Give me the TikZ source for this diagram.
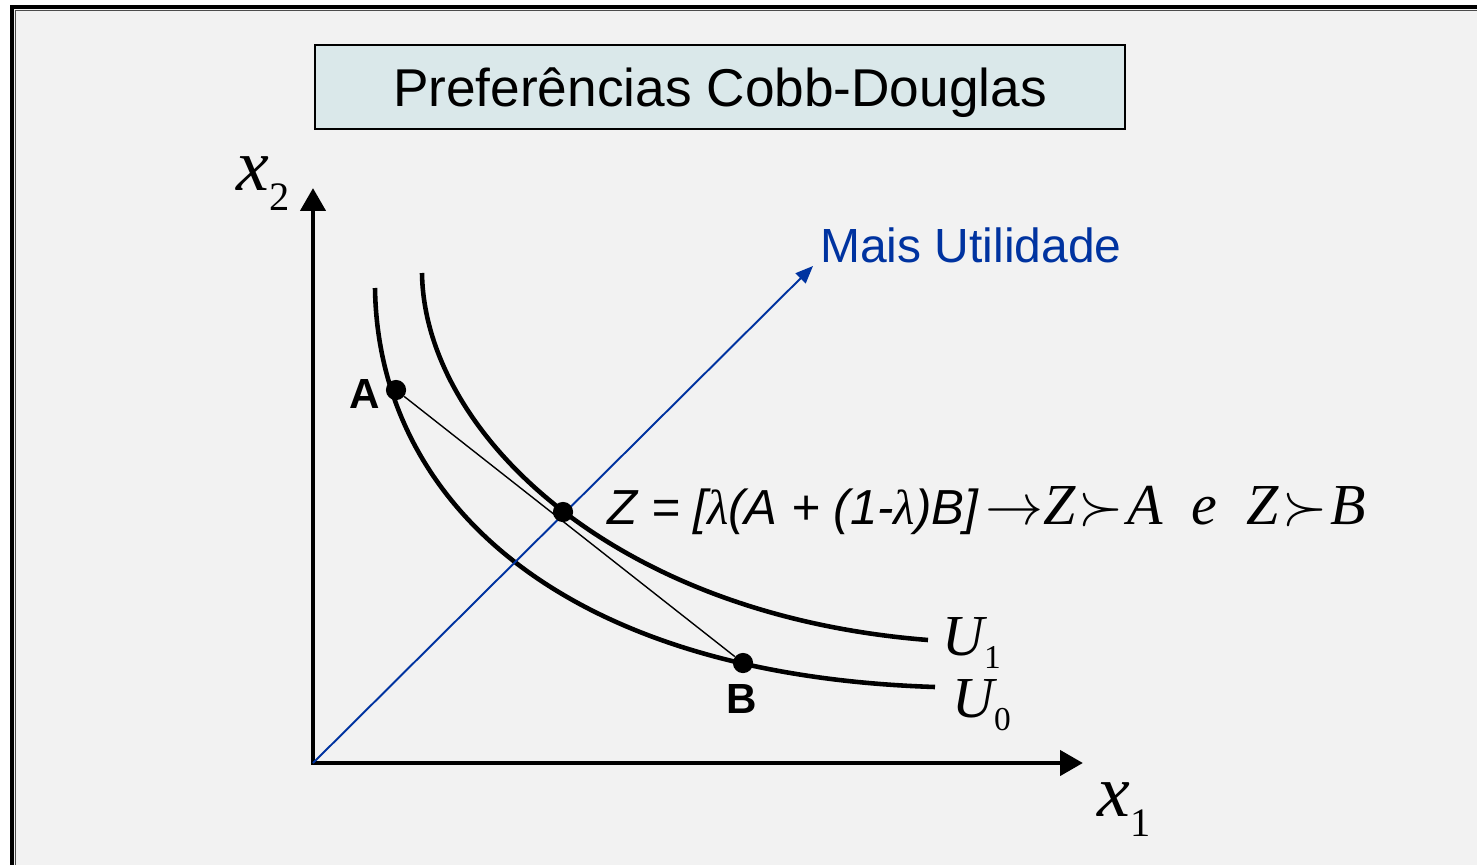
\documentclass[tikz,border=0pt]{standalone}
\usepackage{fix-cm}
\usepackage{fontspec}
\setmainfont{Liberation Sans}
\newfontfamily\tmsfont{Liberation Serif}
\usetikzlibrary{arrows.meta}

\definecolor{slidegray}{HTML}{F2F2F2}
\definecolor{titlefill}{HTML}{DAE8EA}
\definecolor{utilblue}{HTML}{0033A0}

% italic Times letter with a lowered upright index
\newcommand{\sublab}[5]{{\tmsfont\fontsize{#3}{#3}\selectfont\itshape #1}%
  {\tmsfont\fontsize{#4}{#4}\selectfont\raisebox{-#2}{#5}}}

\begin{document}
\begin{tikzpicture}[
    x=0.02cm, y=-0.02cm,
    axisline/.style={line width=2.8pt, {Triangle[length=13pt,width=14pt]}-{Triangle[length=13pt,width=14pt]}},
    indiff/.style={line width=2.6pt},
    dot/.style={circle, fill=black, inner sep=0pt, minimum size=11.5pt},
    ptlabel/.style={font=\fontsize{24}{24}\selectfont\bfseries},
    titlebox/.style={draw=black, line width=0.8pt, fill=titlefill, minimum width=810*0.02cm, minimum height=84*0.02cm, text height=21.7pt, text depth=0pt, font=\fontsize{30.3}{30.3}\selectfont}
]
\useasboundingbox (0,0) rectangle (1477,865);

% slide panel
\fill[white] (0,0) rectangle (1477,865);
\fill[slidegray] (12,7) rectangle (1477,865);
\draw[line width=2.3pt] (12,865) -- (12,7) -- (1477,7);
\draw[line width=0.6pt, black!70] (15.5,865) -- (15.5,10.5) -- (1477,10.5);

\node[titlebox] (title) at (720,87) {Preferências Cobb-Douglas};

% axes
\coordinate (O) at (313,763);
\coordinate (x2tip) at (313,188);
\coordinate (x1tip) at (1083,763);
\draw[axisline] (x2tip) |- (x1tip);
\node[anchor=base west, inner sep=0pt] (x2lab) at (236,190) {\sublab{x}{11.4pt}{42}{23}{2}};
\node[anchor=base west, inner sep=0pt] (x1lab) at (1097,816) {\sublab{x}{11.4pt}{42}{23}{1}};

% indifference curves
\draw[indiff] (375,288) .. controls (378,500) and (560,675) .. (935,687);
\draw[indiff] (422,273) .. controls (424,430) and (610,615) .. (928,640);
\node[anchor=base west, inner sep=0pt] (u1lab) at (942,655) {\sublab{U}{7.4pt}{33}{19}{1}};
\node[anchor=base west, inner sep=0pt] (u0lab) at (952,717) {\sublab{U}{7.4pt}{33}{19}{0}};

% more utility direction
\coordinate (ray) at (813,266);
\draw[utilblue, line width=1.1pt, -{Triangle[length=10pt,width=8pt]}] (O) -- (ray);
\node[anchor=base west, inner sep=0pt, text=utilblue, font=\fontsize{27.3}{27.3}\selectfont] (more) at (820,262) {Mais Utilidade};

% bundles
\node[dot] (A) at (396,390) {};
\node[dot] (B) at (743,663) {};
\node[dot] (Z) at (563,512) {};
\draw[line width=0.8pt] (A) -- (B);
\node[ptlabel] (Alab) at (365,394) {A};
\node[ptlabel] (Blab) at (742,699) {B};

\node[anchor=base west, inner sep=0pt] (eq) at (607,524)
  {\fontsize{28}{28}\selectfont\itshape Z = [{\tmsfont λ}(A + (1-{\tmsfont λ})B]%
   \fontsize{33}{33}\selectfont\tmsfont\kern4pt$\rightarrow$Z\kern2pt$\succ$\kern2pt A\enspace e\enspace Z\kern2pt$\succ$\kern2pt B};
\end{tikzpicture}
\end{document}
